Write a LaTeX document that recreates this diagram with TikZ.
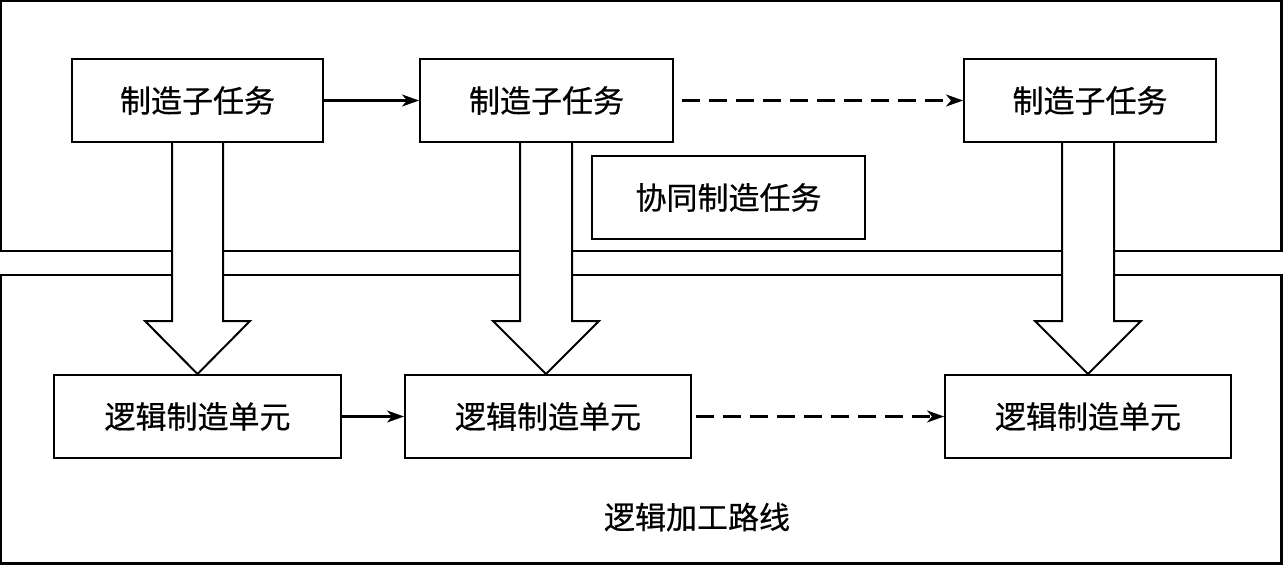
\documentclass[tikz,border=0pt]{standalone}
\usepackage{fontspec}
\newfontfamily\cjk[FakeBold=0.5]{Noto Sans CJK SC}
\usetikzlibrary{arrows.meta}
\begin{document}
\begin{tikzpicture}[x=1pt,y=-1pt,
  box/.style={draw,line width=2pt,minimum height=83pt,inner sep=0pt,font=\cjk\fontsize{31}{36}\selectfont},
  frame/.style={draw,line width=2.4pt},
  flow/.style={line width=2.2pt,-{Stealth[length=17pt,width=12pt,inset=5pt]}},
  dflow/.style={flow,dash pattern=on 18pt off 9pt},
  blockarrow/.style={draw,fill=white,line width=2pt,line join=miter}]
\useasboundingbox (0,0) rectangle (1283,565);
\fill[white] (0,0) rectangle (1283,565);
% frames
\draw[frame] (1.2,1.2) rectangle (1281.5,251);
\draw[frame] (1.2,275) rectangle (1281.5,563.5);
% top boxes
\node[box,minimum width=251pt] (t1) at (197.5,100.5) {制造子任务};
\node[box,minimum width=253pt] (t2) at (546.5,100.5) {制造子任务};
\node[box,minimum width=252pt] (t3) at (1090,100.5) {制造子任务};
\node[box,minimum width=273pt] (task) at (728.5,197.5) {协同制造任务};
% bottom boxes
\node[box,minimum width=287pt] (b1) at (197.5,416.5) {逻辑制造单元};
\node[box,minimum width=286pt] (b2) at (548,416.5) {逻辑制造单元};
\node[box,minimum width=286pt] (b3) at (1088,416.5) {逻辑制造单元};
\node[font=\cjk\fontsize{31}{36}\selectfont] (route) at (697,517) {逻辑加工路线};
% block arrows
\draw[blockarrow] (t1.south -| 172,0) -- (172,321) -- (145,321) -- (b1.north -| 197.5,0) -- (250,321) -- (223,321) -- (t1.south -| 223,0);
\draw[blockarrow] (t2.south -| 520,0) -- (520,321) -- (493,321) -- (b2.north -| 546,0) -- (599,321) -- (572,321) -- (t2.south -| 572,0);
\draw[blockarrow] (t3.south -| 1062,0) -- (1062,321) -- (1035,321) -- (b3.north -| 1088,0) -- (1141,321) -- (1114,321) -- (t3.south -| 1114,0);
% connectors
\draw[flow] (t1.east) -- (t2.west);
\draw[dflow] (t2.east) ++(8,0) coordinate (d1) (d1) -- (t3.west);
\draw[flow] (b1.east) -- (b2.west);
\draw[dflow] (b2.east) ++(4,0) coordinate (d2) (d2) -- (b3.west);
\end{tikzpicture}
\end{document}
